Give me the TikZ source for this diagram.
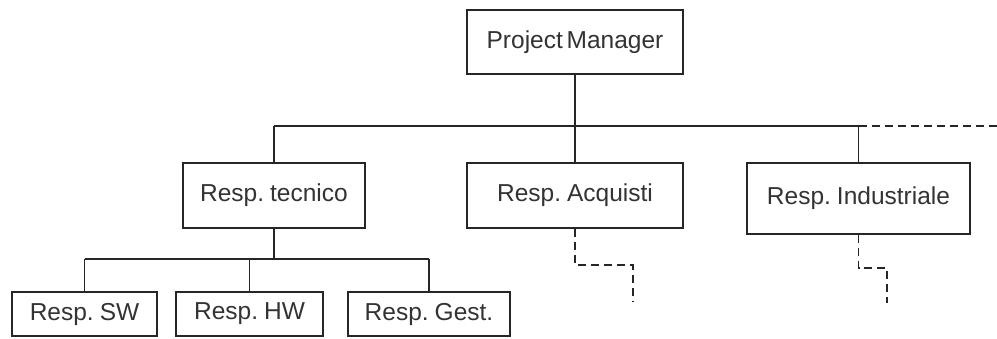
\documentclass[tikz,border=0pt]{standalone}
\usepackage{fontspec}
\setmainfont{Liberation Sans}[WordSpace=0.55]
\begin{document}
\begin{tikzpicture}[x=1pt,y=-1pt,
  role/.style={draw=black!85, line width=1.6pt, fill=white, inner sep=0pt,
    text=black!80, font=\fontsize{24.5}{27}\selectfont},
  link/.style={draw=black!85, line width=1.5pt},
  open/.style={link, dash pattern=on 8pt off 5pt}]
  \useasboundingbox (0,0) rectangle (997,338);

  % management level
  \node[role, minimum width=216pt, minimum height=64pt] (pm) at (575,42) {Project Manager};

  % first line of responsibility
  \node[role, minimum width=182pt, minimum height=65pt] (tec) at (274,195.5) {Resp. tecnico};
  \node[role, minimum width=216pt, minimum height=65pt] (acq) at (575,195.5) {Resp. Acquisti};
  \node[role, minimum width=223pt, minimum height=71pt] (ind) at (858.5,198.5) {Resp. Industriale};

  % technical team
  \node[role, minimum width=145pt, minimum height=44pt] (sw) at (84.5,314) {Resp. SW};
  \node[role, minimum width=147pt, minimum height=44pt] (hw) at (249.5,314) {Resp. HW};
  \node[role, minimum width=162pt, minimum height=44pt] (gest) at (429,314) {Resp. Gest.};

  % bus under the project manager
  \coordinate (busL) at (tec.north |- 0,126);
  \coordinate (busR) at (ind.north |- 0,126);
  \coordinate (busEnd) at (997,126);
  \draw[link] (pm.south) -- (pm.south |- busL);
  \draw[link] (busL) -- (busR);
  \draw[open] (busR) -- (busEnd);
  \draw[link] (busL) -- (tec.north);
  \draw[link] (pm.south |- busL) -- (acq.north);
  \draw[link] (busR) -- (ind.north);

  % bus under the technical lead
  \coordinate (tbus) at (tec.south |- 0,259);
  \draw[link, line width=2.6pt] (tec.south) -- (tbus);
  \draw[link] (sw.north |- tbus) -- (gest.north |- tbus);
  \draw[link] (sw.north |- tbus) -- (sw.north);
  \draw[link] (hw.north |- tbus) -- (hw.north);
  \draw[link] (gest.north |- tbus) -- (gest.north);

  % open branches below purchasing and industrial
  \coordinate (acqEnd) at (633,302);
  \draw[open] (acq.south) |- (acqEnd |- 0,265) -- (acqEnd);
  \coordinate (indEnd) at (887,303);
  \draw[open] (ind.south) |- (indEnd |- 0,268) -- (indEnd);
\end{tikzpicture}
\end{document}
